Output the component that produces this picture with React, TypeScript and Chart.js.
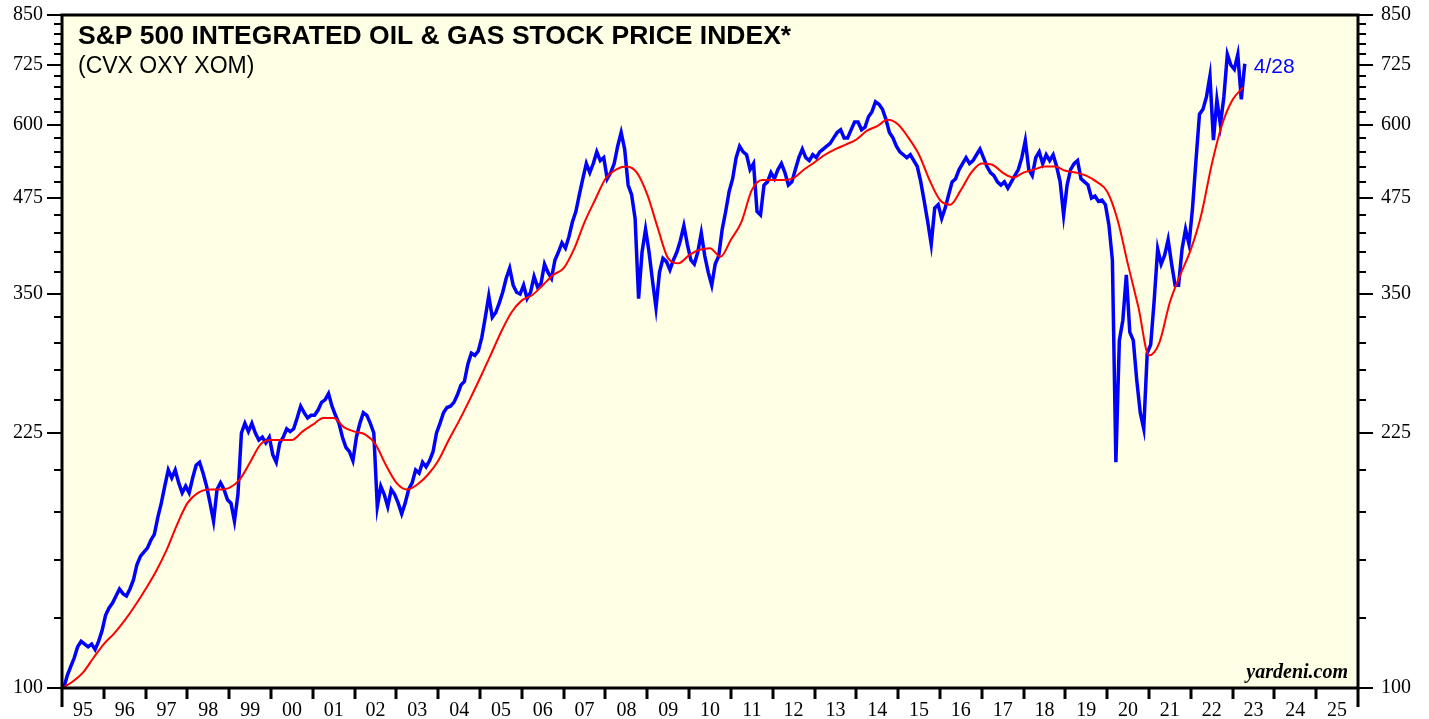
import React, { useEffect, useRef } from 'react';
import { Chart, registerables } from 'chart.js';

Chart.register(...registerables);

// ---- DATA ----
const startYear = 1995;
const endYear = 2026;
const yearLabels = ['95','96','97','98','99','00','01','02','03','04','05','06','07','08','09','10','11','12','13','14','15','16','17','18','19','20','21','22','23','24','25'];
const yMajorTicks = [100, 225, 350, 475, 600, 725, 850];
const yMinorStep = 25;
const titleText = 'S&P 500 INTEGRATED OIL & GAS STOCK PRICE INDEX*';
const subtitleText = '(CVX OXY XOM)';
const lastDateLabel = '4/28';
const sourceText = 'yardeni.com';

// Monthly index values, Jan 1995 .. Apr 2023
const priceMonthly = [
  100, 104, 107, 110, 114, 116, 115, 114, 115, 113, 116, 120,
  126, 129, 131, 134, 137, 135, 134, 137, 141, 148, 152, 154,
  156, 160, 163, 172, 180, 190, 200, 195, 200, 192, 186, 190,
  186, 195, 203, 205, 198, 190, 180, 170, 188, 192, 188, 182,
  180, 170, 185, 225, 232, 226, 232, 225, 220, 222, 218, 222,
  210, 205, 218, 222, 228, 226, 228, 236, 245, 240, 236, 238,
  238, 242, 248, 250, 255, 245, 238, 232, 222, 215, 212, 206,
  222, 232, 240, 238, 232, 225, 178, 190, 185, 178, 188, 185,
  180, 174, 180, 188, 192, 200, 198, 205, 202, 206, 212, 225,
  232, 240, 244, 245, 248, 254, 262, 265, 280, 290, 288, 292,
  305, 325, 348, 325, 330, 340, 352, 368, 380, 360, 352, 350,
  360, 345, 352, 370, 358, 362, 385, 375, 368, 390, 400, 412,
  405, 420, 440, 455, 480, 505, 530, 515, 530, 550, 535, 540,
  505, 515, 530, 560, 585, 555, 495, 480, 445, 345, 400, 430,
  400, 365, 335, 375, 392, 388, 378, 390, 400, 415, 435, 410,
  390, 385, 400, 425, 395, 375, 360, 385, 395, 430, 455, 485,
  505, 540, 560, 550, 545, 520, 530, 455, 450, 495, 500, 515,
  505, 520, 530, 515, 495, 500, 520, 540, 555, 540, 535, 545,
  540, 550, 555, 560, 565, 575, 585, 590, 575, 575, 590, 605,
  605, 590, 595, 615, 625, 645, 640, 630, 610, 585, 575, 560,
  550, 545, 540, 545, 535, 525, 500, 470, 440, 410, 460, 465,
  445, 460, 480, 500, 505, 520, 530, 540, 530, 535, 545, 555,
  540, 525, 515, 510, 500, 495, 500, 490, 500, 510, 520, 540,
  570, 520, 510, 540, 550, 530, 545, 535, 545, 525, 500, 450,
  495, 520, 530, 535, 505, 500, 495, 475, 478, 470, 472, 465,
  436, 390, 205, 302, 322, 372, 310, 302, 266, 240, 228, 290,
  298, 343, 404, 385, 396, 416, 385, 360, 360, 404, 430, 410,
  460, 536, 620, 630, 655, 700, 571, 649, 600, 655, 750, 725,
  715, 750, 650, 728,
];

// Quarterly 200-day moving average, 1995Q1 .. 2023Q2
const movingAvgQuarterly = [
  100, 102, 105, 110,
  115, 119, 124, 130,
  137, 145, 155, 168,
  180, 186, 188, 188,
  189, 194, 205, 217,
  220, 220, 220, 226,
  231, 236, 236, 229,
  226, 224, 217, 203,
  192, 188, 191, 197,
  206, 220, 234, 250,
  268, 288, 310, 330,
  343, 349, 360, 372,
  380, 404, 440, 472,
  505, 520, 525, 515,
  480, 432, 392, 386,
  396, 403, 405, 394,
  416, 440, 487, 503,
  503, 503, 506, 520,
  532, 545, 555, 563,
  572, 588, 597, 609,
  600, 575, 545, 503,
  472, 465, 487, 515,
  530, 528, 515, 507,
  515, 520, 525, 525,
  518, 515, 510, 500,
  485, 443, 384, 335,
  288, 300, 341, 372,
  403, 450, 528, 600,
  649, 675,
];

// ---- STYLE ----
const W = 1429;
const H = 719;
const PLOT_BG = 'rgb(255,255,230)';
const BLUE = '#0000ff';
const RED = '#ff0000';
const SERIF = '"Liberation Serif", "Times New Roman", serif';
const SANS = '"Liberation Sans", Arial, sans-serif';

const pricePoints = priceMonthly.map((v, i) => ({ x: startYear + (i + 0.5) / 12, y: v }));
const maPoints = movingAvgQuarterly.map((v, i) => ({ x: startYear + i / 4, y: v }));

const framePlugin = {
  id: 'yardeniFrame',
  beforeDraw(chart: any) {
    const { ctx, chartArea: a, width, height } = chart;
    ctx.save();
    ctx.fillStyle = '#ffffff';
    ctx.fillRect(0, 0, width, height);
    ctx.fillStyle = PLOT_BG;
    ctx.fillRect(a.left, a.top, a.right - a.left, a.bottom - a.top);
    ctx.restore();
  },
  afterDraw(chart: any) {
    const { ctx, chartArea: a, scales } = chart;
    const xs = scales.x;
    const ys = scales.y;
    ctx.save();
    ctx.strokeStyle = '#000';
    ctx.fillStyle = '#000';

    const line = (x1: number, y1: number, x2: number, y2: number) => {
      ctx.beginPath();
      ctx.moveTo(x1, y1);
      ctx.lineTo(x2, y2);
      ctx.stroke();
    };

    // y ticks both sides
    ctx.lineWidth = 2;
    const yMin = yMajorTicks[0];
    const yMax = yMajorTicks[yMajorTicks.length - 1];
    for (let v = yMin; v <= yMax; v += yMinorStep) {
      const y = Math.round(ys.getPixelForValue(v));
      const major = yMajorTicks.includes(v);
      const len = major ? 15 : 8;
      line(a.left - len, y, a.left, y);
      line(a.right, y, a.right + len, y);
    }
    ctx.font = `20px ${SERIF}`;
    ctx.textBaseline = 'middle';
    for (const v of yMajorTicks) {
      const y = ys.getPixelForValue(v);
      ctx.textAlign = 'right';
      ctx.fillText(String(v), a.left - 19, y);
      ctx.textAlign = 'left';
      ctx.fillText(String(v), a.right + 23, y);
    }

    // x ticks
    ctx.lineWidth = 3;
    for (let yr = startYear; yr <= endYear; yr++) {
      const x = Math.round(xs.getPixelForValue(yr));
      const edge = yr === startYear || yr === endYear;
      line(x, a.bottom, x, a.bottom + (edge ? 19 : 11));
    }
    ctx.textAlign = 'center';
    ctx.textBaseline = 'alphabetic';
    yearLabels.forEach((lab, i) => {
      const x = xs.getPixelForValue(startYear + i + 0.5);
      ctx.fillText(lab, x, a.bottom + 28);
    });

    // frame
    ctx.lineWidth = 3;
    ctx.strokeRect(a.left, a.top, a.right - a.left, a.bottom - a.top);

    // titles
    ctx.textAlign = 'left';
    ctx.font = `bold 26.5px ${SANS}`;
    ctx.fillText(titleText, a.left + 16, a.top + 29);
    ctx.font = `23px ${SANS}`;
    ctx.fillText(subtitleText, a.left + 16, a.top + 58);

    // last date label
    const last = pricePoints[pricePoints.length - 1];
    ctx.fillStyle = BLUE;
    ctx.font = `21px ${SANS}`;
    ctx.textBaseline = 'middle';
    ctx.fillText(lastDateLabel, xs.getPixelForValue(last.x) + 9, ys.getPixelForValue(last.y) + 3);

    // source
    ctx.fillStyle = '#000';
    ctx.textAlign = 'right';
    ctx.textBaseline = 'alphabetic';
    ctx.font = `italic bold 20px ${SERIF}`;
    ctx.fillText(sourceText, a.right - 10, a.bottom - 10);

    ctx.restore();
  },
};

export default function App() {
  const canvasRef = useRef<HTMLCanvasElement | null>(null);

  useEffect(() => {
    if (!canvasRef.current) return;
    const chart = new Chart(canvasRef.current, {
      type: 'line',
      data: {
        datasets: [
          {
            data: maPoints,
            borderColor: RED,
            borderWidth: 2,
            pointRadius: 0,
            cubicInterpolationMode: 'monotone',
          },
          {
            data: pricePoints,
            borderColor: BLUE,
            borderWidth: 3.5,
            pointRadius: 0,
            tension: 0,
          },
        ],
      },
      options: {
        animation: false,
        responsive: false,
        maintainAspectRatio: false,
        layout: { padding: { left: 62, right: 71, top: 15, bottom: 31 } },
        scales: {
          x: { type: 'linear', min: startYear, max: endYear, display: false },
          y: { type: 'logarithmic', min: yMajorTicks[0], max: yMajorTicks[yMajorTicks.length - 1], display: false },
        },
        plugins: { legend: { display: false }, tooltip: { enabled: false } },
      },
      plugins: [framePlugin],
    } as any);
    return () => chart.destroy();
  }, []);

  return (
    <div style={{ position: 'absolute', left: 0, top: 0, width: W, height: H, background: '#fff' }}>
      <canvas ref={canvasRef} width={W} height={H} style={{ display: 'block', width: W, height: H }} />
    </div>
  );
}
